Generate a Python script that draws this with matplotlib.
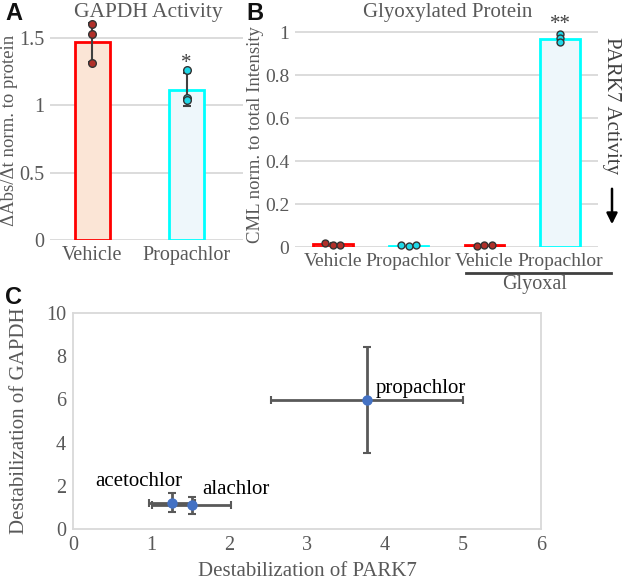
import matplotlib
matplotlib.use("Agg")
import matplotlib.pyplot as plt
import numpy as np

plt.rcParams['font.family'] = ['Liberation Serif', 'DejaVu Serif']

# ---------------- data ----------------
a_categories = ["Vehicle", "Propachlor"]
a_means = [1.465, 1.115]
a_sd = [0.145, 0.125]
a_points = [[1.60, 1.53, 1.31], [1.26, 1.05, 1.04]]

b_categories = ["Vehicle", "Propachlor", "Vehicle", "Propachlor"]
b_means = [0.015, 0.008, 0.012, 0.967]
b_sd = [0.005, 0.003, 0.004, 0.018]
b_points = [[0.020, 0.010, 0.012], [0.012, 0.008, 0.010],
            [0.006, 0.012, 0.010], [0.990, 0.975, 0.955]]

c_names = ["acetochlor", "alachlor", "propachlor"]
c_x = [1.27, 1.52, 3.77]
c_y = [1.22, 1.10, 5.97]
c_xerr = [0.29, 0.51, 1.23]
c_yerr = [0.45, 0.40, 2.45]

# ---------------- style ----------------
W, H = 627, 581
fig = plt.figure(figsize=(W / 100, H / 100), dpi=100)

def ax_px(left, top, right, bottom):
    return fig.add_axes([left / W, 1 - bottom / H, (right - left) / W, (bottom - top) / H])

TICK_C = "#595959"
GRID_C = "#D9D9D9"
ERR_C = "#404040"
edge_cols = ["#FF0000", "#00FFFF"]
fill_cols = ["#FBE5D6", "#EEF7FB"]
pt_cols = ["#B0302A", "#1FD8E8"]

def style_bar_axes(ax, size):
    for s in ax.spines.values():
        s.set_visible(False)
    ax.yaxis.grid(True, color=GRID_C, lw=1.3)
    ax.set_axisbelow(True)
    ax.tick_params(length=0, labelsize=size, colors=TICK_C, pad=4)

# ---------------- Panel A ----------------
axA = ax_px(50, 21.5, 243, 240)
xa = np.arange(len(a_categories))
for i in xa:
    axA.bar(i, a_means[i], width=0.37, color=fill_cols[i], edgecolor=edge_cols[i], lw=2, zorder=2)
    axA.errorbar(i, a_means[i], yerr=a_sd[i], color=ERR_C, lw=1.5, capsize=3, capthick=1.5, zorder=3, clip_on=False)
    axA.plot([i] * len(a_points[i]), a_points[i], 'o', ms=5.5, mfc=pt_cols[i], mec="#333333", mew=1, zorder=4, clip_on=False)
axA.set_xlim(-0.45, 1.6)
axA.set_ylim(0, 1.62)
axA.set_yticks([0, 0.5, 1, 1.5])
axA.set_yticklabels(["0", "0.5", "1", "1.5"])
axA.set_xticks(xa)
axA.set_xticklabels(a_categories)
style_bar_axes(axA, 14.5)
axA.set_ylabel("ΔAbs/Δt norm. to protein", fontsize=13.5, color=TICK_C, labelpad=1)
fig.text(148 / W, 1 - 12 / H, "GAPDH Activity", ha="center", va="center", fontsize=15.5, color=TICK_C)
axA.text(1, a_means[1] + a_sd[1] + 0.07, "*", ha="center", va="center", fontsize=15, color=ERR_C)

# ---------------- Panel B ----------------
axB = ax_px(295, 21.6, 598, 247.3)
xb = np.arange(len(b_categories))
jit = [-0.1, 0.0, 0.1]
for i in xb:
    c = i % 2
    axB.bar(i, b_means[i], width=0.52, color=fill_cols[c], edgecolor=edge_cols[c], lw=2, zorder=2)
    axB.errorbar(i, b_means[i], yerr=b_sd[i], color=ERR_C, lw=1.5, capsize=2, capthick=1.5, zorder=3)
    xs = [i + j for j in jit] if b_means[i] < 0.1 else [i] * 3
    axB.plot(xs, b_points[i], 'o', ms=5, mfc=pt_cols[c], mec="#333333", mew=1, zorder=4, clip_on=False)
axB.set_xlim(-0.5, 3.5)
axB.set_ylim(0, 1.05)
axB.set_yticks([0, 0.2, 0.4, 0.6, 0.8, 1])
axB.set_yticklabels(["0", "0.2", "0.4", "0.6", "0.8", "1"])
axB.set_xticks(xb)
axB.set_xticklabels(b_categories)
style_bar_axes(axB, 14)
axB.set_ylabel("CML norm. to total Intensity", fontsize=13.5, color=TICK_C, labelpad=1)
fig.text(448 / W, 1 - 12 / H, "Glyoxylated Protein", ha="center", va="center", fontsize=15, color=TICK_C)
axB.text(3, 1.035, "**", ha="center", va="center", fontsize=15, color=ERR_C, clip_on=False)

# glyoxal bracket
fig.add_artist(plt.Line2D([466 / W, 611 / W], [1 - 272.7 / H, 1 - 272.7 / H], color="#404040", lw=2))
fig.text(535 / W, 1 - 284 / H, "Glyoxal", ha="center", va="center", fontsize=14.5, color=TICK_C)

# PARK7 Activity side label with arrow
fig.text(612 / W, 1 - 106 / H, "PARK7 Activity", rotation=-90, ha="center", va="center",
         fontsize=15, color="#404040")
fig.add_artist(matplotlib.patches.FancyArrowPatch((612 / W, 1 - 186 / H), (612 / W, 1 - 227 / H),
               transform=fig.transFigure, arrowstyle="-|>", mutation_scale=16, color="black", lw=1.8))

# ---------------- Panel C ----------------
axC = ax_px(73, 313, 541, 529)
for i in range(len(c_names)):
    axC.errorbar(c_x[i], c_y[i], xerr=c_xerr[i], yerr=c_yerr[i], fmt='none', ecolor="#595959",
                 elinewidth=2, capsize=3, capthick=1.5, zorder=2)
axC.plot(c_x, c_y, 'o', ms=6.5, color="#4472C4", zorder=3, ls="none")
axC.set_xlim(0, 6)
axC.set_ylim(0, 10)
axC.set_xticks(range(0, 7))
axC.set_yticks(range(0, 11, 2))
for s in axC.spines.values():
    s.set_color(GRID_C)
    s.set_linewidth(1.3)
axC.tick_params(length=0, labelsize=14.5, colors=TICK_C, pad=5)
axC.set_xlabel("Destabilization of PARK7", fontsize=15, color=TICK_C, labelpad=5)
axC.set_ylabel("Destabilization of GAPDH", fontsize=15, color=TICK_C, labelpad=12)
offsets = [(-55, 15), (8, 11.5), (6.5, 8.5)]
for i in range(len(c_names)):
    axC.annotate(c_names[i], (c_x[i], c_y[i]), xytext=offsets[i], textcoords="offset points",
                 fontsize=15, color="black", va="center", ha="left")

# panel letters
for lbl, (x, y) in {"A": (5, 13), "B": (246, 13), "C": (5, 298)}.items():
    fig.text(x / W, 1 - y / H, lbl, ha="left", va="center", fontsize=17, fontweight="bold",
             family="Liberation Sans", color="#111111")

fig.savefig("out.png", dpi=100)
